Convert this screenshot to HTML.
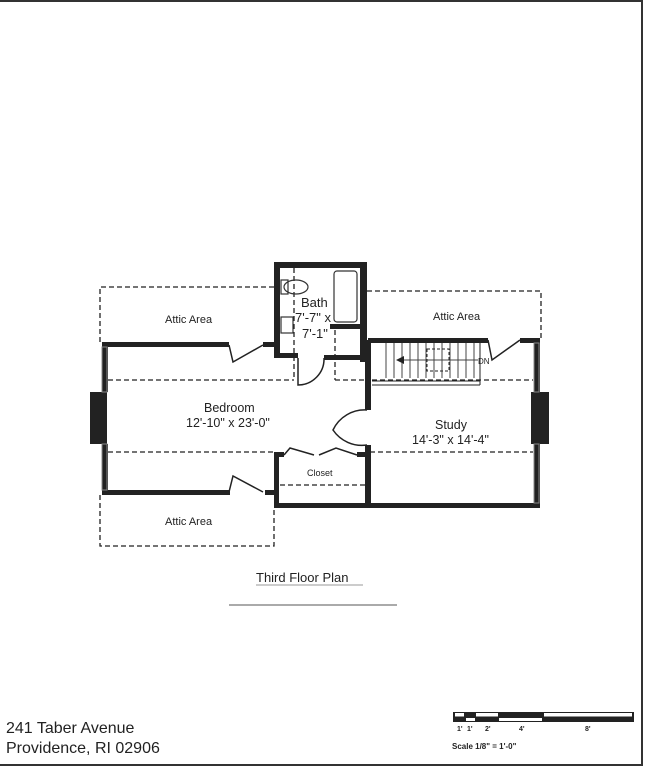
<!DOCTYPE html>
<html><head><meta charset="utf-8"><style>
html,body{margin:0;padding:0;background:#fff}
svg{display:block}
text{font-family:"Liberation Sans",Arial,sans-serif;fill:#222}
</style></head><body>
<svg width="647" height="768" viewBox="0 0 647 768" xmlns="http://www.w3.org/2000/svg">
<line x1="0" y1="1" x2="643" y2="1" stroke="#333" stroke-width="2"/>
<line x1="642" y1="1" x2="642" y2="766" stroke="#333" stroke-width="2"/>
<line x1="0" y1="765" x2="643" y2="765" stroke="#333" stroke-width="2"/>

<g fill="none" stroke="#222" stroke-width="1.3" stroke-dasharray="5,3">
<polyline points="274,287 100,287 100,345"/>
<polyline points="367,291 541,291 541,340"/>
<line x1="108" y1="380" x2="294" y2="380"/>
<line x1="294" y1="268" x2="294" y2="380"/>
<line x1="335" y1="330" x2="335" y2="380"/>
<line x1="335" y1="380" x2="365" y2="380"/>
<line x1="372" y1="380" x2="533" y2="380"/>
<line x1="108" y1="452" x2="274" y2="452"/>
<line x1="370" y1="452" x2="533" y2="452"/>
<line x1="280" y1="485" x2="365" y2="485"/>
<polyline points="100,495 100,546 274,546 274,508"/>
</g>

<g fill="#222">
<rect x="274" y="262" width="92" height="6"/>
<rect x="274" y="262" width="6" height="96"/>
<rect x="360" y="262" width="7" height="100"/>
<rect x="274" y="353" width="24" height="5"/>
<rect x="324" y="355" width="46" height="5"/>
<rect x="330" y="324" width="32" height="5"/>
<rect x="365" y="340" width="6" height="70"/>
<rect x="365" y="445" width="6" height="63"/>
<rect x="102" y="342" width="127" height="5"/>
<rect x="263" y="342" width="13" height="5"/>
<rect x="102" y="342" width="6" height="50"/>
<rect x="102" y="444" width="6" height="51"/>
<rect x="102" y="490" width="128" height="5"/>
<rect x="265" y="490" width="12" height="5"/>
<rect x="274" y="454" width="5" height="54"/>
<rect x="274" y="503" width="266" height="5"/>
<rect x="274" y="452" width="10" height="5"/>
<rect x="357" y="452" width="12" height="5"/>
<rect x="368" y="338" width="120" height="5"/>
<rect x="520" y="338" width="20" height="5"/>
<rect x="534" y="338" width="6" height="170"/>
<rect x="90" y="392" width="17" height="52"/>
<rect x="531" y="392" width="18" height="52"/>
</g>
<g fill="none" stroke="#888" stroke-width="1">
<rect x="102" y="347" width="5" height="45"/>
<rect x="102" y="444" width="5" height="46"/>
<rect x="534" y="343" width="5" height="49"/>
<rect x="534" y="444" width="5" height="59"/>
</g>

<g fill="none" stroke="#222" stroke-width="1.5">
<polyline points="229,345 233,362 263,345"/>
<polyline points="229,492 233,476 263,492"/>
<path d="M298,358 L298,385 A26,26 0 0 0 324,358"/>
<path d="M367,410 A35,35 0 0 0 333,430 A35,35 0 0 0 367,445"/>
<polyline points="284,455 290,448 314,455"/>
<polyline points="319,455 336,448 357,455"/>
<polyline points="488,340 492,360 520,340"/>
</g>

<g stroke="#222" stroke-width="1" fill="none">
<line x1="372" y1="381" x2="480" y2="381"/>
<line x1="372" y1="385" x2="480" y2="385"/>
<line x1="480" y1="343" x2="480" y2="385"/>
</g>
<g stroke="#444" stroke-width="1">
<line x1="386" y1="343" x2="386" y2="378"/><line x1="394" y1="343" x2="394" y2="378"/>
<line x1="402" y1="343" x2="402" y2="378"/><line x1="410" y1="343" x2="410" y2="378"/>
<line x1="418" y1="343" x2="418" y2="378"/><line x1="426" y1="343" x2="426" y2="378"/>
<line x1="434" y1="343" x2="434" y2="378"/><line x1="442" y1="343" x2="442" y2="378"/>
<line x1="450" y1="343" x2="450" y2="378"/><line x1="458" y1="343" x2="458" y2="378"/>
<line x1="466" y1="343" x2="466" y2="378"/><line x1="474" y1="343" x2="474" y2="378"/>
<line x1="400" y1="360" x2="478" y2="360"/>
</g>
<polygon points="396,360 404,356 404,364" fill="#222"/>
<rect x="427" y="349" width="22" height="22" fill="none" stroke="#222" stroke-dasharray="3,2"/>
<text x="478" y="364" font-size="8">DN</text>

<g fill="none" stroke="#333" stroke-width="1.2">
<rect x="334" y="271" width="23" height="51" rx="3"/>
<rect x="281" y="280" width="7" height="14"/>
<ellipse cx="296" cy="287" rx="12" ry="7"/>
<rect x="281" y="317" width="12" height="16"/>
</g>

<g font-size="11">
<text x="165" y="323">Attic Area</text>
<text x="433" y="320">Attic Area</text>
<text x="165" y="525">Attic Area</text>
<text x="301" y="307" font-size="13">Bath</text>
<text x="295" y="322" font-size="13">7'-7" x</text>
<text x="302" y="338" font-size="13">7'-1"</text>
<text x="204" y="412" font-size="12.5">Bedroom</text>
<text x="186" y="427" font-size="12.5">12'-10" x 23'-0"</text>
<text x="435" y="429" font-size="12.5">Study</text>
<text x="412" y="444" font-size="12.5">14'-3" x 14'-4"</text>
<text x="307" y="476" font-size="9">Closet</text>
</g>
<text x="256" y="582" font-size="13">Third Floor Plan</text>
<line x1="256" y1="585" x2="363" y2="585" stroke="#999" stroke-width="1"/>
<line x1="229" y1="605" x2="397" y2="605" stroke="#555" stroke-width="1"/>
<text x="6" y="733" font-size="16">241 Taber Avenue</text>
<text x="6" y="753" font-size="16">Providence, RI 02906</text>

<rect x="453" y="712" width="181" height="10" fill="#222"/>
<rect x="455" y="713" width="9" height="3.5" fill="#fff"/>
<rect x="466" y="718" width="9" height="3" fill="#fff"/>
<rect x="476" y="713" width="22" height="3.5" fill="#fff"/>
<rect x="499" y="718" width="43" height="3" fill="#fff"/>
<rect x="544" y="713" width="88" height="3.5" fill="#fff"/>
<g font-size="7" font-weight="bold">
<text x="457" y="731">1'</text><text x="467" y="731">1'</text><text x="485" y="731">2'</text>
<text x="519" y="731">4'</text><text x="585" y="731">8'</text>
<text x="452" y="749" font-size="8">Scale  1/8" = 1'-0"</text>
</g>
</svg>
</body></html>
